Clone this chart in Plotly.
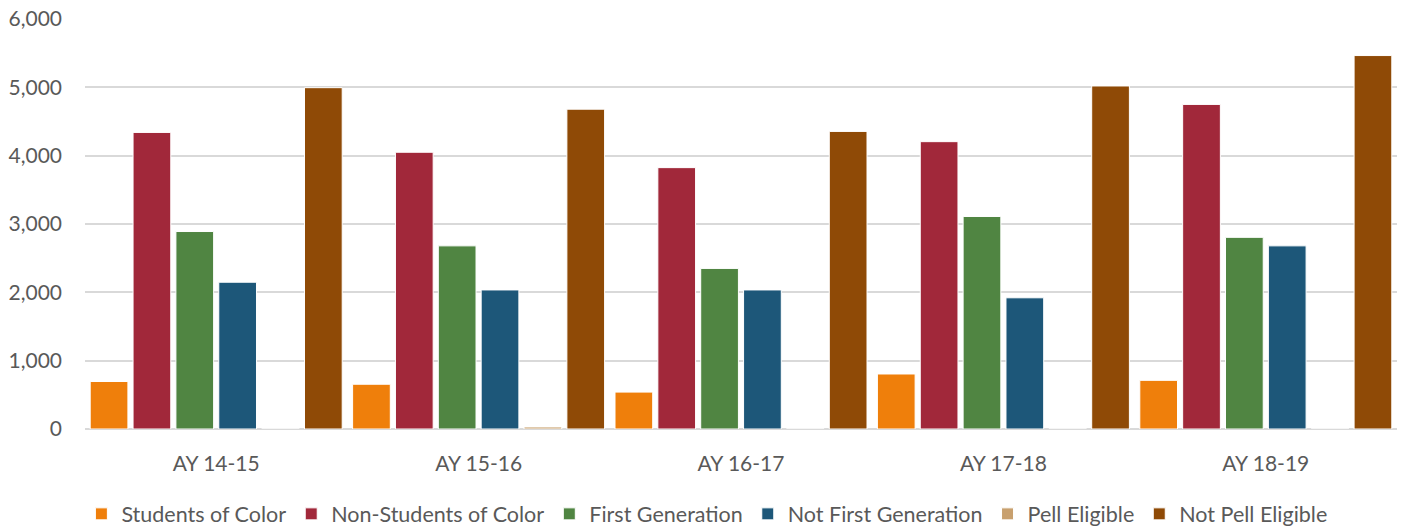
import plotly.graph_objects as go

categories = ["AY 14-15", "AY 15-16", "AY 16-17", "AY 17-18", "AY 18-19"]

students_of_color = [695, 655, 540, 805, 712]
non_students_of_color = [4340, 4050, 3825, 4205, 4750]
first_generation = [2890, 2680, 2350, 3110, 2805]
not_first_generation = [2148, 2035, 2035, 1920, 2680]
pell_eligible = [0, 30, 0, 0, 0]
not_pell_eligible = [4995, 4680, 4355, 5020, 5465]

series_names = ["Students of Color", "Non-Students of Color", "First Generation",
                "Not First Generation", "Pell Eligible", "Not Pell Eligible"]
series_values = [students_of_color, non_students_of_color, first_generation,
                 not_first_generation, pell_eligible, not_pell_eligible]
series_colors = ["#EF7F0B", "#A1283A", "#508542", "#1D5779", "#C8A06E", "#8F4A06"]

y_ticks = [0, 1000, 2000, 3000, 4000, 5000, 6000]
y_tick_labels = ["0", "1,000", "2,000", "3,000", "4,000", "5,000", "6,000"]

fig = go.Figure()
for name, vals, col in zip(series_names, series_values, series_colors):
    fig.add_trace(go.Bar(
        name=name, x=categories, y=vals,
        marker=dict(color=col, line=dict(color="white", width=1)),
    ))

font_family = "Lato, 'Open Sans', sans-serif"
fig.update_layout(
    barmode="group",
    bargap=0.02,
    bargroupgap=0.12,
    width=1402, height=526,
    margin=dict(l=85, r=5, t=19, b=97, autoexpand=False),
    plot_bgcolor="white",
    paper_bgcolor="white",
    font=dict(family=font_family, color="#595959", size=21),
    showlegend=True,
    legend=dict(
        orientation="h",
        x=0.474, xanchor="center",
        y=-0.207, yanchor="middle",
        font=dict(size=21.5, color="#595959"),
        traceorder="normal",
        itemclick=False,
        itemwidth=30,
    ),
    xaxis=dict(
        showgrid=False,
        showline=False,
        ticks="",
        ticklabelstandoff=20,
        tickfont=dict(size=21, color="#595959"),
    ),
    yaxis=dict(
        range=[0, 6000],
        tickvals=y_ticks,
        ticktext=y_tick_labels,
        showgrid=True,
        gridcolor="#D9D9D9",
        gridwidth=2,
        zeroline=True,
        zerolinecolor="#D9D9D9",
        zerolinewidth=2,
        showline=False,
        ticks="",
        ticklabelstandoff=22,
        tickfont=dict(size=21, color="#595959"),
    ),
)

fig.write_html(
    "out.html",
    config={"displayModeBar": False},
    post_script="document.body.style.margin='0';document.body.style.overflow='hidden';",
)
